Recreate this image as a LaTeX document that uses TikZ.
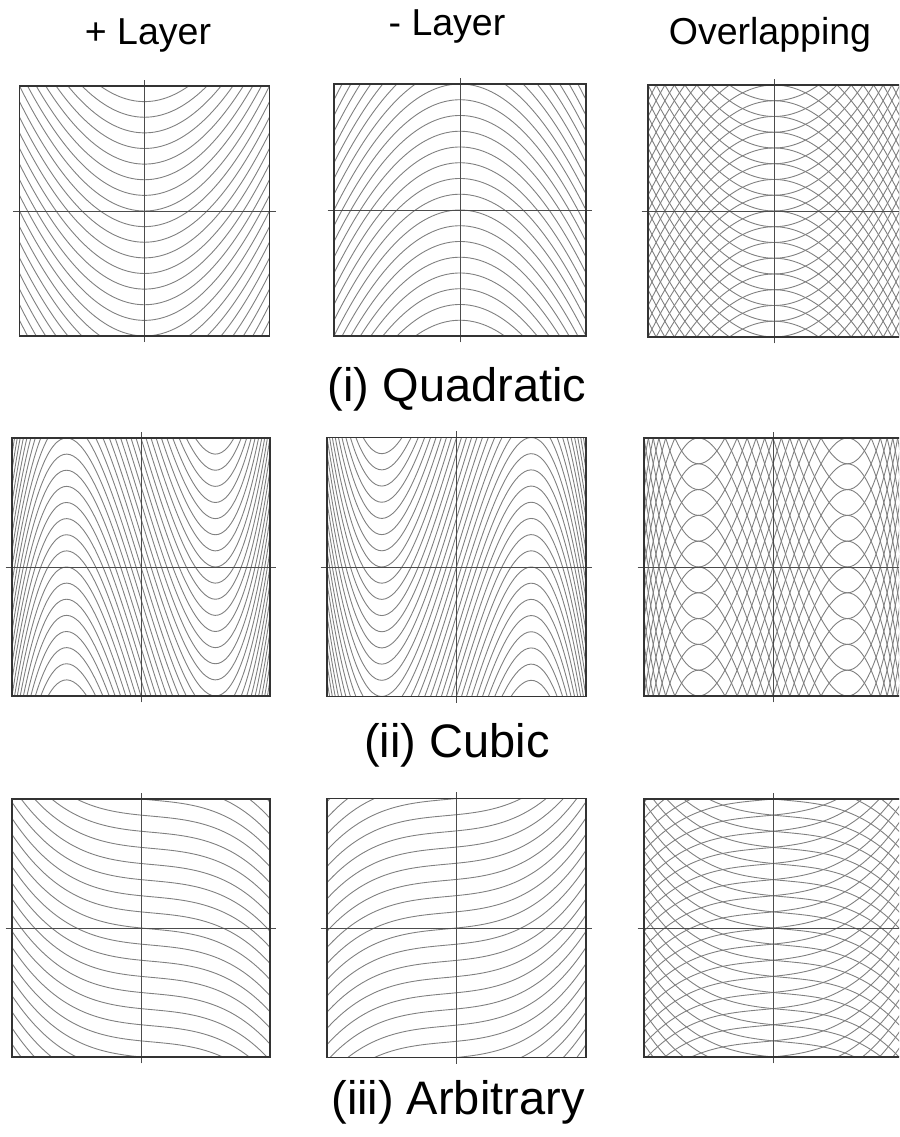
\documentclass[tikz,border=0pt]{standalone}
\usepackage{fontspec}
\setmainfont{Liberation Sans}
\tikzset{frame/.style={draw=black!80,line width=1.6pt},
 ax/.style={draw=black!70,line width=.9pt},
 crv/.style={draw=black!50,line width=.9pt,domain=-1:1,samples=81,smooth},
 lbl/.style={anchor=base,font=\fontsize{37.5}{40}\selectfont},
 rowlbl/.style={anchor=base,font=\fontsize{47}{52}\selectfont}}
\newcommand\curveset[3]{\foreach \k in {#1}{\draw[crv] plot (\x,{#2+(\k)/#3});}}
\newcommand\plotbox[4]{\begin{scope}[shift={(#1,#2)},x=#3pt,y=#3pt]
 \begin{scope}\clip (-1,-1) rectangle (1,1); #4\end{scope}
 \draw[ax] (-1.05,0)--(1.05,0); \draw[ax] (0,-1.05)--(0,1.05);
 \draw[frame] (-1,-1) rectangle (1,1);
 \end{scope}}
\begin{document}
\begin{tikzpicture}[x=1pt,y=1pt]
\useasboundingbox (0,0) rectangle (899,1137);
\clip (0,0) rectangle (899,1137);
% column titles
\node[lbl] (pl) at (148,1092) {+ Layer};
\node[lbl] (ml) at (447,1101) {- Layer};
\node[lbl] (ol) at (770,1092) {Overlapping};
% (i) quadratic
\plotbox{144.5}{926}{125}{\curveset{-16,...,8}{(\x)*(\x)}{8}}
\plotbox{460}{927}{126}{\curveset{-8,...,16}{0-(\x)*(\x)}{8}}
\plotbox{774}{926}{126}{\curveset{-16,...,8}{(\x)*(\x)}{8}\curveset{-8,...,16}{0-(\x)*(\x)}{8}}
\node[rowlbl] (qd) at (457,735) {(i) Quadratic};
% (ii) cubic
\plotbox{141}{570}{129}{\curveset{-18,...,18}{3.2476*((\x)*(\x)*(\x)-(\x))}{8}}
\plotbox{456.5}{570}{129.5}{\curveset{-18,...,18}{0-3.2476*((\x)*(\x)*(\x)-(\x))}{8}}
\plotbox{773}{570}{129}{\curveset{-11,...,11}{3.1177*((\x)*(\x)*(\x)-(\x))}{5}\curveset{-11,...,11}{0-3.1177*((\x)*(\x)*(\x)-(\x))}{5}}
\node[rowlbl] (cb) at (457,379) {(ii) Cubic};
% (iii) arbitrary
\plotbox{141}{209}{129}{\curveset{-13,...,12}{0.1*(\x)*(\x)-0.1*(\x)-0.4*(\x)*(\x)*(\x)}{8}}
\plotbox{456.5}{209}{129.5}{\curveset{-13,...,12}{0.1*(\x)*(\x)+0.1*(\x)+0.4*(\x)*(\x)*(\x)}{8}}
\plotbox{773}{209}{129}{\curveset{-13,...,12}{0.1*(\x)*(\x)-0.1*(\x)-0.4*(\x)*(\x)*(\x)}{8}\curveset{-13,...,12}{0.1*(\x)*(\x)+0.1*(\x)+0.4*(\x)*(\x)*(\x)}{8}}
\node[rowlbl] (ar) at (458,23) {(iii) Arbitrary};
\end{tikzpicture}
\end{document}
